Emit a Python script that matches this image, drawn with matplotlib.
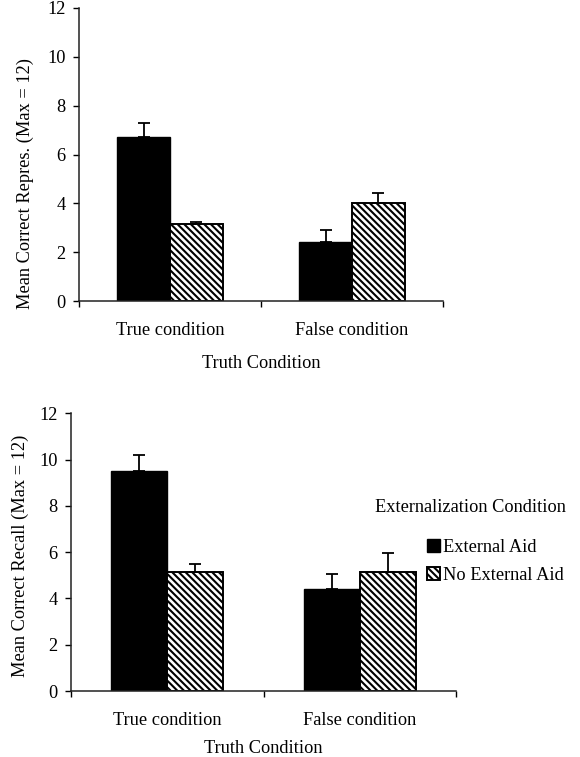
import matplotlib
matplotlib.use("Agg")
import matplotlib.pyplot as plt
import numpy as np

FS = 13.2
plt.rcParams['font.family'] = ['Liberation Serif', 'DejaVu Serif']
plt.rcParams['font.size'] = FS
plt.rcParams['hatch.linewidth'] = 1.5
plt.rcParams['hatch.color'] = 'black'

categories = ["True condition", "False condition"]
series_names = ["External Aid", "No External Aid"]

# Top panel: Mean Correct Repres.
repres_ext = [6.73, 2.43]
repres_ext_err = [0.58, 0.48]
repres_noext = [3.14, 4.03]
repres_noext_err = [0.11, 0.38]

# Bottom panel: Mean Correct Recall
recall_ext = [9.50, 4.42]
recall_ext_err = [0.69, 0.62]
recall_noext = [5.16, 5.13]
recall_noext_err = [0.33, 0.85]

yticks = [0, 2, 4, 6, 8, 10, 12]

W, H = 580, 757
fig = plt.figure(figsize=(W / 100, H / 100), dpi=100)

def fx(px):
    return px / W

def fy(py):
    return 1 - py / H

ax1 = fig.add_axes([fx(79), fy(301), fx(443) - fx(79), fy(8) - fy(301)])
ax2 = fig.add_axes([fx(71), fy(691), fx(456) - fx(71), fy(413.3) - fy(691)])

w = 0.29
x = np.arange(len(categories))


def draw(ax, ext, ext_err, noext, noext_err):
    b1 = ax.bar(x - w / 2, ext, w, color='black', edgecolor='black', linewidth=1.0,
                label=series_names[0], zorder=2)
    b2 = ax.bar(x + w / 2, noext, w, color='white', edgecolor='black', linewidth=1.4,
                hatch='\\' * 5, label=series_names[1], zorder=2)
    for xs, vals, errs in ((x - w / 2, ext, ext_err), (x + w / 2, noext, noext_err)):
        ax.errorbar(xs, vals, yerr=[np.zeros(len(errs)), errs], fmt='none',
                    ecolor='black', elinewidth=1.3, capsize=4.2, capthick=1.3, zorder=3)
    ax.set_xlim(-0.5, 1.5)
    ax.set_ylim(0, 12)
    ax.set_yticks(yticks)
    ax.set_yticklabels([str(t) for t in yticks])
    ax.tick_params(axis='y', direction='out', length=4.5, width=1.0, pad=5,
                   labelsize=FS, colors='black')
    ax.set_xticks([-0.5, 0.5, 1.5])
    ax.set_xticklabels([])
    ax.tick_params(axis='x', direction='out', length=4.5, width=1.0)
    for s in ('top', 'right'):
        ax.spines[s].set_visible(False)
    for s in ('left', 'bottom'):
        ax.spines[s].set_linewidth(1.1)
        ax.spines[s].set_color('#222222')
    for i, c in enumerate(categories):
        ax.annotate(c, xy=(x[i], 0), xycoords=('data', 'axes fraction'),
                    xytext=(0, -34 * 0.72), textcoords='offset points',
                    ha='center', va='baseline', fontsize=FS)
    return b1, b2


draw(ax1, repres_ext, repres_ext_err, repres_noext, repres_noext_err)
b1, b2 = draw(ax2, recall_ext, recall_ext_err, recall_noext, recall_noext_err)

# x-axis titles
fig.text(fx((79 + 443) / 2), fy(368), "Truth Condition", ha='center', va='baseline', fontsize=FS)
fig.text(fx((71 + 456) / 2), fy(753), "Truth Condition", ha='center', va='baseline', fontsize=FS)

# y-axis titles
fig.text(fx(25), fy(183.5), "Mean Correct Repres. (Max = 12)", rotation=90,
         ha='center', va='center', fontsize=FS)
fig.text(fx(20.7), fy(556), "Mean Correct Recall (Max = 12)", rotation=90,
         ha='center', va='center', fontsize=FS)

# legend
fig.text(fx(375), fy(508), "Externalization Condition", ha='left', va='center', fontsize=FS)
fig.legend([b1, b2], series_names, loc='upper left',
           bbox_to_anchor=(fx(427), fy(539)), bbox_transform=fig.transFigure,
           frameon=False, borderpad=0, borderaxespad=0, handlelength=0.72,
           handleheight=0.72, handletextpad=0.15, labelspacing=0.62, fontsize=FS)

fig.savefig("out.png", dpi=100)
